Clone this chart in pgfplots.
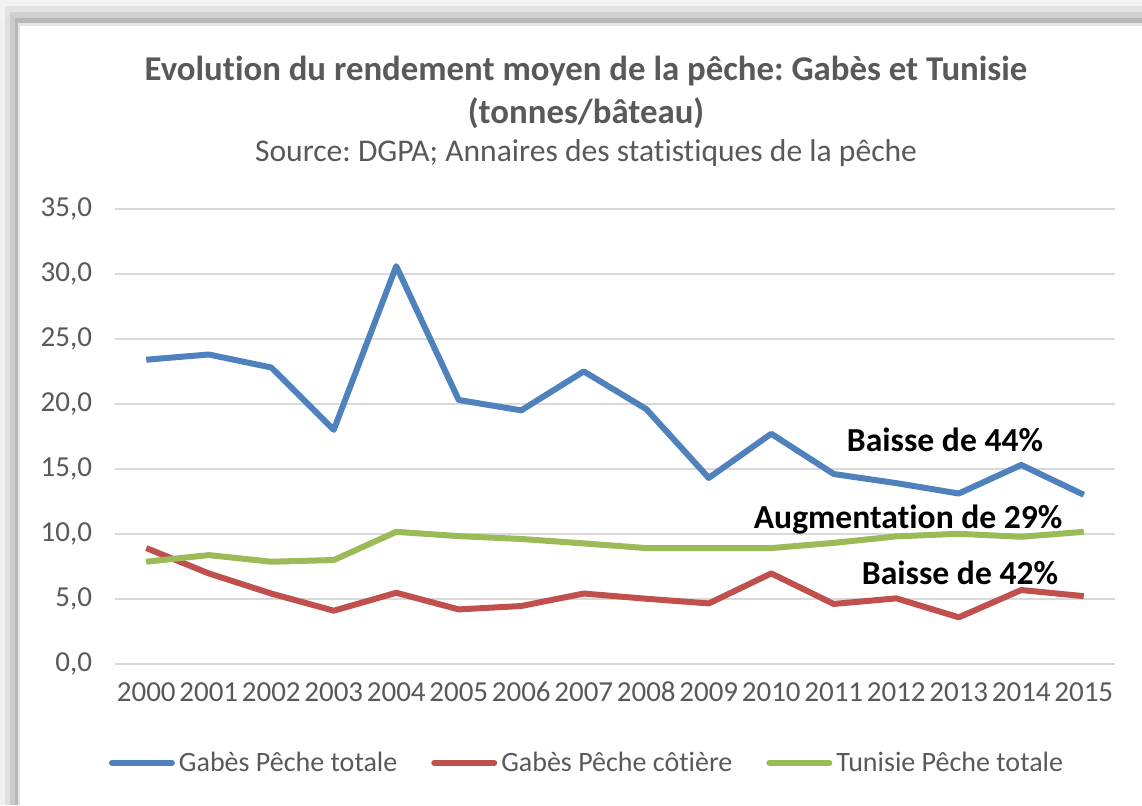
\documentclass[border=0pt]{standalone}
\usepackage{pgfplots}
\pgfplotsset{compat=1.18}
\usepackage{fontspec}
\setmainfont{Carlito}[Ligatures=NoCommon]
\frenchspacing
\definecolor{cblue}{HTML}{4F81BD}
\definecolor{cred}{HTML}{C0504D}
\definecolor{cgreen}{HTML}{9BBB59}
\definecolor{ctext}{HTML}{595959}
\definecolor{cgrid}{HTML}{D9D9D9}
\begin{document}
\begin{tikzpicture}[x=0.5pt,y=0.5pt]
\path[use as bounding box, fill=white] (0,0) rectangle (1142,805);
% frame shadow
\fill[black!5] (0,779) rectangle (1142,805);
\fill[black!11] (5,779) rectangle (1142,799);
\fill[black!18] (10,779) rectangle (1142,793);
\fill[black!28] (15,779) rectangle (1142,787);
\fill[black!10] (18,779) rectangle (1142,782);
\fill[black!6] (0,0) rectangle (5,785);
\fill[black!12] (5,0) rectangle (10,790);
\fill[black!20] (10,0) rectangle (15,790);
\fill[black!28] (15,0) rectangle (18,787);
\fill[black!10] (18,0) rectangle (20,782);
\fill[white] (20,0) rectangle (1142,779);
% titles
\node[anchor=base, font=\bfseries\fontsize{17.4}{20}\selectfont, text=ctext] at (586,724) {Evolution du rendement moyen de la pêche: Gabès et Tunisie};
\node[anchor=base, font=\bfseries\fontsize{17.4}{20}\selectfont, text=ctext] at (586,681) {(tonnes/bâteau)};
\node[anchor=base, font=\fontsize{15.8}{18}\selectfont, text=ctext] at (586,643) {Source: DGPA; Annaires des statistiques de la pêche};
\begin{axis}[
  at={(57.5pt,70.65pt)}, anchor=south west,
  scale only axis, width=500pt, height=227.35pt,
  xmin=-0.5, xmax=15.5, ymin=0, ymax=35,
  xtick={0,...,15},
  xticklabels={2000,2001,2002,2003,2004,2005,2006,2007,2008,2009,2010,2011,2012,2013,2014,2015},
  ytick={0,5,...,35},
  /pgf/number format/fixed,
  /pgf/number format/fixed zerofill,
  /pgf/number format/precision=1,
  /pgf/number format/use comma,
  /pgf/number format/assume math mode=true,
  ticklabel style={font=\fontsize{14.5}{16}\selectfont, text=ctext},
  yticklabel style={xshift=-8pt},
  xticklabel style={yshift=-5.5pt, text height=10pt, text depth=0pt},
  major tick length=0pt,
  axis line style={draw=none},
  ymajorgrids, grid style={cgrid, line width=0.8pt},
  legend style={at={(0.473,-0.218)}, anchor=center, draw=none, fill=none,
    font=\fontsize{14}{16}\selectfont, text=ctext,
    /tikz/every even column/.append style={column sep=15pt}},
  legend columns=3,
  legend cell align=left,
  legend image code/.code={\draw[#1, line cap=round] (0pt,0pt) -- (30pt,0pt);},
  every axis plot/.append style={line width=3pt, line join=round, no markers},
  clip=false,
]
\addplot[cblue] coordinates {(0,23.4)(1,23.8)(2,22.8)(3,18.0)(4,30.6)(5,20.3)(6,19.5)(7,22.5)(8,19.6)(9,14.3)(10,17.7)(11,14.6)(12,13.9)(13,13.1)(14,15.3)(15,13.0)};
\addlegendentry{Gabès Pêche totale}
\addplot[cred] coordinates {(0,8.9)(1,6.95)(2,5.4)(3,4.08)(4,5.46)(5,4.18)(6,4.44)(7,5.4)(8,5.0)(9,4.64)(10,6.95)(11,4.6)(12,5.03)(13,3.57)(14,5.67)(15,5.2)};
\addlegendentry{Gabès Pêche côtière}
\addplot[cgreen] coordinates {(0,7.85)(1,8.36)(2,7.85)(3,7.98)(4,10.15)(5,9.82)(6,9.6)(7,9.26)(8,8.9)(9,8.9)(10,8.9)(11,9.3)(12,9.8)(13,10.0)(14,9.77)(15,10.15)};
\addlegendentry{Tunisie Pêche totale}
\node[font=\bfseries\fontsize{16.8}{18}\selectfont] at (axis cs:12.78,17.2) {Baisse de 44\%};
\node[font=\bfseries\fontsize{16.8}{18}\selectfont] at (axis cs:12.19,11.1) {Augmentation de 29\%};
\node[font=\bfseries\fontsize{16.8}{18}\selectfont] at (axis cs:13.02,7.0) {Baisse de 42\%};
\end{axis}
\end{tikzpicture}
\end{document}
